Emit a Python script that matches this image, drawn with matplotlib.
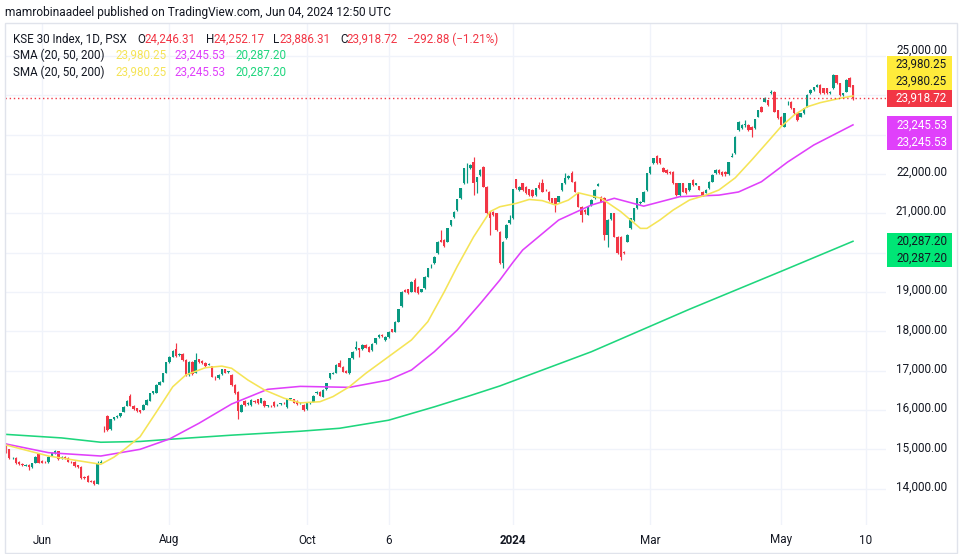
import matplotlib
matplotlib.use("Agg")
import matplotlib.pyplot as plt
import numpy as np
import pandas as pd
from matplotlib.patches import Rectangle
from matplotlib.transforms import blended_transform_factory

plt.rcParams['font.family'] = ['Roboto', 'DejaVu Sans']

W, H = 963, 554

# ---------------- data ----------------
first_day = '2023-05-17'
holidays = ['2023-06-28', '2023-06-29', '2023-06-30', '2023-07-28', '2023-08-14',
            '2023-09-29', '2023-11-09', '2023-12-25', '2024-02-05', '2024-02-08',
            '2024-04-10', '2024-04-11', '2024-04-12', '2024-05-01', '2024-05-28']

open_ = [
    15110, 15000, 14770, 14790, 14685, 14620, 14585, 14610, 14540, 14645,
    14880, 14710, 14685, 14670, 14830, 14900, 14965, 14770, 14815, 14790,
    14685, 14685, 14600, 14560, 14305, 14330, 14205, 14205, 14120, 14660,
    15575, 15845, 15510, 15760, 15815, 15845, 15955, 16100, 16365, 16100,
    16040, 16000, 16000, 16125, 16235, 16425, 16440, 16635, 16720, 16950,
    17210, 17355, 17540, 17395, 17420, 17270, 16890, 17230, 16950, 17285,
    17250, 17200, 17150, 17115, 16845, 16805, 16915, 17030, 16965, 16890,
    16635, 16465, 15955, 16235, 16150, 16125, 16230, 16270, 16185, 16235,
    16100, 16110, 16210, 16115, 16150, 16185, 16065, 16280, 16270, 16235,
    16180, 16125, 16015, 16170, 16210, 16425, 16465, 16340, 16525, 16805,
    16920, 16950, 17185, 17100, 17000, 16930, 17310, 17540, 17565, 17540,
    17650, 17610, 17525, 17695, 17845, 17905, 17780, 17845, 18050, 17990,
    18245, 18640, 19050, 19065, 19005, 19305, 19135, 19005, 19090, 19385,
    19680, 19725, 19980, 20320, 20320, 20275, 20700, 20895, 21080, 21380,
    21760, 22090, 22140, 22310, 21800, 21970, 22180, 21675, 21040, 21040,
    21000, 20530, 19725, 20360, 20745, 20870, 21860, 21590, 21760, 21675,
    21605, 21590, 21460, 21715, 21760, 21590, 21545, 21380, 21380, 21295,
    21590, 21760, 21885, 22015, 21800, 21505, 21165, 21080, 20960, 21210,
    21380, 21700, 21420, 21380, 20440, 20845, 21000, 20405, 20405, 20020,
    20275, 20615, 20830, 21125, 21250, 21295, 21590, 22015, 22265, 22455,
    22395, 22140, 22100, 22055, 22055, 21760, 21460, 21760, 21630, 21590,
    21845, 21720, 21680, 21545, 21520, 21630, 21800, 22015, 22100, 22055,
    22055, 21990, 22440, 22520, 23115, 23155, 23240, 23240, 23200, 23155,
    23455, 23705, 23835, 23875, 24045, 24090, 23620, 23455, 23200, 23790,
    23835, 23665, 23540, 23455, 23540, 23705, 24045, 24130, 24215, 24260,
    24175, 24175, 24045, 24175, 24510, 24300, 24005, 24090, 24425, 24246.31,
]
high = [
    15150, 15020, 14810, 14800, 14700, 14640, 14630, 14620, 14660, 14830,
    14900, 14720, 14700, 14830, 14920, 14985, 14970, 14830, 14830, 14800,
    14700, 14700, 14610, 14570, 14320, 14340, 14220, 14210, 14700, 14720,
    15590, 15870, 15780, 15830, 15860, 15930, 16100, 16250, 16400, 16115,
    16050, 16010, 16140, 16270, 16440, 16490, 16650, 16740, 16945, 17230,
    17370, 17530, 17695, 17440, 17440, 17290, 17250, 17240, 17440, 17300,
    17260, 17210, 17185, 17130, 16860, 16905, 17050, 17045, 16995, 16905,
    16650, 16480, 16140, 16250, 16200, 16270, 16245, 16285, 16310, 16250,
    16135, 16125, 16225, 16140, 16185, 16200, 16285, 16310, 16285, 16250,
    16210, 16140, 16185, 16215, 16370, 16480, 16480, 16525, 16690, 16945,
    16970, 17160, 17270, 17115, 17015, 17325, 17500, 17760, 17580, 17665,
    17665, 17625, 17690, 17835, 17920, 17920, 17880, 18005, 18065, 18260,
    18570, 19020, 19065, 19080, 19275, 19345, 19150, 19080, 19400, 19615,
    19720, 19910, 20290, 20575, 20335, 20630, 20840, 21055, 21365, 21645,
    22155, 22265, 22240, 22420, 21925, 22115, 22200, 21690, 21055, 21055,
    21015, 20545, 20290, 20715, 20955, 21620, 21875, 21690, 21775, 21690,
    21620, 21605, 21645, 21800, 21860, 21605, 21560, 21395, 21395, 21450,
    21775, 22015, 21960, 22080, 21815, 21520, 21180, 21100, 21180, 21350,
    21605, 21760, 21440, 21400, 20845, 21015, 21015, 20420, 20420, 20035,
    20460, 20885, 21140, 21395, 21310, 21560, 22030, 22195, 22410, 22470,
    22410, 22180, 22115, 22070, 22070, 21775, 21775, 21775, 21645, 21775,
    21860, 21775, 21700, 21560, 21605, 21815, 21985, 22115, 22115, 22070,
    22070, 22310, 22520, 22960, 23340, 23255, 23370, 23255, 23215, 23400,
    23635, 23720, 23950, 23890, 24130, 24105, 23635, 23470, 23555, 23850,
    23850, 23680, 23555, 23555, 23680, 24020, 24145, 24215, 24275, 24275,
    24190, 24190, 24105, 24530, 24525, 24315, 24060, 24400, 24470, 24252.17,
]
low = [
    14910, 14750, 14750, 14630, 14600, 14580, 14570, 14475, 14530, 14640,
    14640, 14640, 14650, 14660, 14820, 14890, 14730, 14750, 14760, 14670,
    14650, 14560, 14520, 14250, 14240, 14170, 14160, 14095, 14110, 14640,
    15450, 15470, 15490, 15745, 15800, 15830, 15945, 16090, 16090, 16000,
    15960, 15930, 15990, 16115, 16225, 16410, 16430, 16625, 16710, 16940,
    17200, 17340, 17355, 17370, 17250, 16870, 16860, 16900, 16940, 17200,
    17170, 17100, 17135, 16830, 16760, 16790, 16900, 16935, 16950, 16620,
    16410, 15770, 15940, 16110, 16135, 16110, 16185, 16155, 16170, 16085,
    16085, 16080, 16085, 16100, 16135, 16155, 16050, 16265, 16170, 16135,
    16160, 15975, 16000, 16155, 16195, 16410, 16350, 16325, 16510, 16790,
    16905, 16935, 17085, 16960, 16935, 16915, 17300, 17525, 17355, 17525,
    17570, 17465, 17510, 17680, 17830, 17865, 17765, 17830, 17975, 17975,
    18230, 18625, 18990, 18950, 18990, 18990, 18950, 18990, 19075, 19370,
    19600, 19710, 19965, 20265, 20150, 20260, 20685, 20880, 21065, 21365,
    21745, 21760, 22125, 21460, 21505, 21955, 21660, 20985, 20445, 20940,
    20560, 19710, 19600, 20345, 20730, 20855, 21615, 21575, 21575, 21490,
    21445, 21420, 21445, 21615, 21530, 21560, 21320, 21255, 21040, 21280,
    21575, 21745, 21870, 21785, 21530, 21150, 20785, 20990, 20945, 21195,
    21365, 21690, 21280, 20320, 20150, 20830, 20390, 19965, 19810, 19965,
    20260, 20600, 20815, 21110, 21235, 21280, 21575, 22000, 22250, 22250,
    22250, 22040, 22000, 22000, 21745, 21445, 21445, 21530, 21490, 21575,
    21700, 21705, 21585, 21445, 21505, 21615, 21785, 22000, 22000, 21955,
    21955, 21975, 22425, 22505, 23100, 23140, 23200, 23100, 22925, 23140,
    23440, 23565, 23820, 23735, 24030, 23565, 23395, 23225, 23185, 23760,
    23650, 23525, 23355, 23440, 23525, 23690, 24030, 24115, 24200, 24030,
    24030, 24030, 24030, 24160, 24285, 23990, 23990, 24075, 24200, 23886.31,
]
close = [
    14940, 14770, 14790, 14645, 14620, 14600, 14610, 14540, 14645, 14815,
    14660, 14660, 14670, 14815, 14900, 14965, 14745, 14815, 14770, 14685,
    14670, 14575, 14540, 14265, 14265, 14180, 14180, 14120, 14645, 14685,
    15560, 15490, 15760, 15815, 15845, 15915, 16085, 16230, 16100, 16015,
    15980, 15955, 16125, 16255, 16425, 16475, 16635, 16720, 16930, 17210,
    17355, 17510, 17370, 17420, 17270, 16890, 17230, 16915, 17270, 17220,
    17185, 17115, 17170, 16845, 16830, 16890, 17030, 16950, 16980, 16635,
    16425, 15980, 16125, 16125, 16185, 16255, 16200, 16170, 16295, 16100,
    16120, 16095, 16100, 16125, 16170, 16170, 16270, 16295, 16185, 16150,
    16190, 16000, 16170, 16195, 16355, 16465, 16365, 16510, 16675, 16930,
    16950, 17145, 17100, 16975, 16950, 17310, 17480, 17610, 17525, 17650,
    17585, 17480, 17675, 17820, 17905, 17880, 17865, 17990, 17990, 18245,
    18555, 19005, 19005, 18965, 19260, 19005, 18965, 19065, 19385, 19600,
    19690, 19895, 20275, 20280, 20165, 20615, 20825, 21040, 21350, 21630,
    22140, 22105, 22225, 21760, 21910, 22100, 21675, 21000, 20870, 20955,
    20575, 19725, 20275, 20700, 20825, 21605, 21630, 21675, 21590, 21505,
    21460, 21435, 21630, 21630, 21545, 21580, 21335, 21270, 21210, 21435,
    21760, 21885, 21945, 21800, 21545, 21165, 20955, 21040, 21165, 21335,
    21590, 21735, 21295, 20440, 20830, 21000, 20405, 19980, 19895, 19980,
    20445, 20870, 21125, 21380, 21295, 21545, 22015, 22180, 22395, 22265,
    22265, 22055, 22015, 22015, 21760, 21460, 21760, 21545, 21505, 21760,
    21715, 21760, 21600, 21460, 21590, 21800, 21970, 22100, 22015, 21970,
    21990, 22290, 22455, 22945, 23325, 23240, 23280, 23115, 23115, 23385,
    23620, 23580, 23935, 23750, 24090, 23580, 23410, 23240, 23540, 23810,
    23665, 23540, 23370, 23540, 23665, 24005, 24130, 24200, 24260, 24045,
    24045, 24045, 24090, 24510, 24300, 24005, 24045, 24385, 24215, 23918.72,
]

# moving averages (bar number, value)
sma20_bar = [0, 13, 29, 33, 36, 41, 46, 51, 55, 61, 66, 69, 74, 79, 85, 90, 96, 100,
             105, 110, 117, 124, 129, 134, 138, 143, 148, 151, 156, 160, 164, 168,
             172, 175, 179, 182, 188, 194, 196, 200, 204, 209, 214, 218, 223, 228,
             233, 237, 241, 245, 249, 255, 259]
sma20_val = [15110, 14830, 14620, 14800, 14985, 15320, 15950, 16590, 16890, 17075,
             17115, 17060, 16760, 16510, 16300, 16180, 16210, 16340, 16590, 16930,
             17355, 17780, 18245, 19000, 19650, 20400, 21040, 21165, 21250, 21350,
             21320, 21210, 21335, 21520, 21440, 21380, 21040, 20615, 20615, 20830,
             21080, 21335, 21460, 21590, 21900, 22350, 22820, 23200, 23495, 23705,
             23810, 23920, 23980.25]
sma50_bar = [0, 13, 29, 41, 50, 59, 69, 80, 90, 105, 117, 124, 131, 138, 145, 151,
             155, 158, 169, 179, 186, 195, 206, 218, 224, 231, 239, 247, 259]
sma50_val = [15136, 14915, 14830, 15000, 15263, 15662, 16152, 16525, 16600, 16575,
             16762, 17016, 17482, 18032, 18700, 19300, 19750, 20065, 20827, 21208,
             21380, 21180, 21420, 21460, 21540, 21800, 22300, 22733, 23245.53]
sma200_bar = [0, 17, 29, 41, 50, 69, 90, 102, 117, 131, 141, 151, 179, 209, 238, 259]
sma200_val = [15380, 15290, 15180, 15200, 15255, 15360, 15460, 15535, 15740, 16080,
              16340, 16610, 17480, 18560, 19557, 20287.20]

tick_dates = ['2023-06-01', '2023-08-01', '2023-10-01', '2023-11-06', '2024-01-01',
              '2024-03-01', '2024-05-01', '2024-06-10']
tick_labels = ['Jun', 'Aug', 'Oct', '6', '2024', 'Mar', 'May', '10']
price_ticks = list(range(14000, 25001, 1000))

header = 'mamrobinaadeel published on TradingView.com, Jun 04, 2024 12:50 UTC'
symbol = 'KSE 30 Index, 1D, PSX'
ohlc_text = ['24,246.31', '24,252.17', '23,886.31', '23,918.72']
change_text = '\u2212292.88 (\u22121.21%)'
sma_title = 'SMA (20, 50, 200)'
sma_text = ['23,980.25', '23,245.53', '20,287.20']

# ---------------- colours ----------------
UP, DOWN = '#089981', '#f23645'
C_S20, C_S50, C_S200 = '#f5e456', '#e040fb', '#1ed67d'
TXT = '#131722'
GRID = '#f0f3fa'

# ---------------- figure ----------------
fig = plt.figure(figsize=(W / 100, H / 100), dpi=100)
fig.patch.set_facecolor('white')


def fx(x):
    return x / W


def fy(y):
    return 1 - y / H


pane_l, pane_r, pane_t, pane_b = 5, 886, 24, 525
ax = fig.add_axes([fx(pane_l), fy(pane_b), fx(pane_r - pane_l), (pane_b - pane_t) / H])
for s in ax.spines.values():
    s.set_visible(False)

n = len(close)
x = np.arange(n)
o = np.array(open_, float)
h = np.array(high, float)
l = np.array(low, float)
c = np.array(close, float)
cols = np.where(c >= o, UP, DOWN)

ax.vlines(x, l, h, colors=cols, lw=0.85, zorder=2)
ax.bar(x, np.maximum(np.abs(c - o), 14), bottom=np.minimum(o, c), width=0.74,
       color=cols, lw=0, zorder=2)

ax.plot(sma200_bar, sma200_val, color=C_S200, lw=1.15, zorder=3)
ax.plot(sma50_bar, sma50_val, color=C_S50, lw=1.15, zorder=3)
ax.plot(sma20_bar, sma20_val, color=C_S20, lw=1.15, zorder=3)

ax.axhline(c[-1], color=DOWN, lw=1, ls=(0, (1, 2)), zorder=4)

# trading calendar for time-axis ticks
cal = pd.bdate_range(first_day, '2024-06-30')
cal = cal[~cal.isin(pd.to_datetime(holidays))]
tick_idx = [int(cal.searchsorted(pd.Timestamp(d))) for d in tick_dates]

ax.set_xlim(-0.3, 269.1)
ax.set_ylim(13077, 25809)
ax.set_xticks(tick_idx)
ax.set_yticks(price_ticks)
ax.grid(True, color=GRID, lw=1, zorder=0)
ax.set_axisbelow(True)
ax.tick_params(length=0, labelleft=False, labelbottom=False)

# time labels
tb = blended_transform_factory(ax.transData, fig.transFigure)
for ti, tl in zip(tick_idx, tick_labels):
    ax.text(ti, fy(540), tl, transform=tb, ha='center', va='center', fontsize=8.4,
            color=TXT, fontweight='bold' if tl == '2024' else 'normal', clip_on=False)

fig.canvas.draw()


def ypx(v):
    return H - ax.transData.transform((0, v))[1]


# price tags on the scale (boxes: top y in px, number of lines, line height)
LH = 17
y_close = ypx(c[-1])
tags = [
    (y_close - 8.3, 1, 16.6, DOWN, 'white', f'{c[-1]:,.2f}'),
    (y_close - 8.3 - 2 * LH, 2, LH, '#ffeb3b', TXT, f'{sma20_val[-1]:,.2f}'),
    (ypx(sma50_val[-1]) - LH / 2, 2, LH, C_S50, 'white', f'{sma50_val[-1]:,.2f}'),
    (ypx(sma200_val[-1]) - LH / 2, 2, LH, '#00e676', TXT, f'{sma200_val[-1]:,.2f}'),
]
yellow_top = tags[1][0]

# price scale labels (those hidden under a tag are not shown, as in the chart)
for v in price_ticks:
    yv = ypx(v) - 1.5
    hidden = any(t[0] - 4 < yv < t[0] + t[1] * t[2] + 4 for t in tags[:1] + tags[2:])
    if hidden:
        continue
    yv = min(yv, yellow_top - 5.5) if yv < yellow_top + 2 * LH else yv
    fig.text(fx(947), fy(yv), f'{v:,.2f}', ha='right', va='center',
             fontsize=8.4, color=TXT)

for ytop, nl, lh, color, tcol, text in tags:
    fig.add_artist(Rectangle((fx(887), fy(ytop + nl * lh)), fx(65), nl * lh / H,
                             transform=fig.transFigure, color=color, lw=0, zorder=5))
    for k in range(nl):
        fig.text(fx(947), fy(ytop + lh * k + lh / 2), text, ha='right', va='center',
                 fontsize=8.4, color=tcol, zorder=6)

# outer frame
fig.add_artist(Rectangle((fx(5), fy(553)), fx(952), 530 / H, transform=fig.transFigure,
                         fill=False, ec='#e0e3eb', lw=1, zorder=7))

# header and legend
fig.text(fx(5), fy(12.5), header, ha='left', va='center', fontsize=8.6, color=TXT)
fs = 8.4
y1, y2, y3 = 39.3, 55.5, 72.5
fig.text(fx(13), fy(y1), symbol, ha='left', va='center', fontsize=fs, color=TXT)
for lab, xl, val, xv in zip(['O', 'H', 'L', 'C'], [137.7, 205.7, 273.3, 340],
                            ohlc_text, [144.3, 213.3, 279.3, 346.7]):
    fig.text(fx(xl), fy(y1), lab, ha='left', va='center', fontsize=fs, color=TXT)
    fig.text(fx(xv), fy(y1), val, ha='left', va='center', fontsize=fs, color=DOWN)
fig.text(fx(407.3), fy(y1), change_text, ha='left', va='center', fontsize=fs, color=DOWN)
for yy in (y2, y3):
    fig.text(fx(13), fy(yy), sma_title, ha='left', va='center', fontsize=fs, color=TXT)
    for val, xv, col in zip(sma_text, [115, 174.7, 235], [C_S20, C_S50, C_S200]):
        fig.text(fx(xv), fy(yy), val, ha='left', va='center', fontsize=fs, color=col)

fig.savefig('out.png', dpi=100, facecolor='white')
